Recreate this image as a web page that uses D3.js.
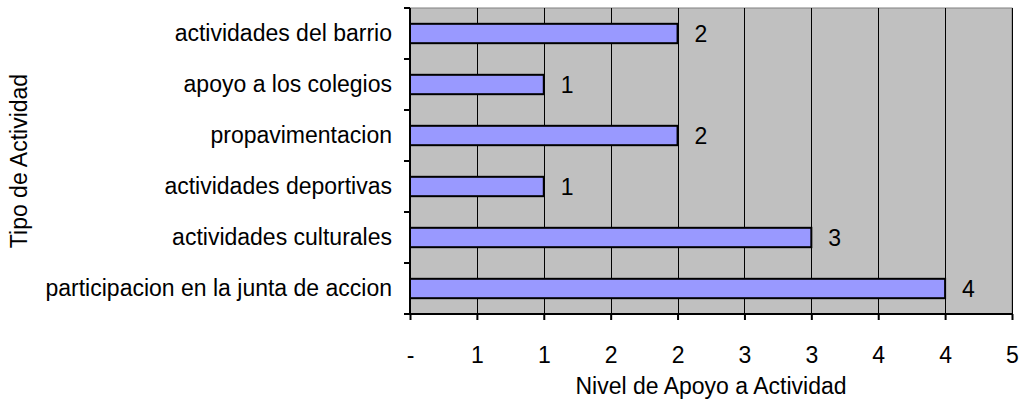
<!DOCTYPE html>
<html>
<head>
<meta charset="utf-8">
<script src="https://cdn.jsdelivr.net/npm/d3@7"></script>
<style>
  html, body { margin: 0; padding: 0; background: #fff; }
  svg { display: block; }
  text { font-family: "Liberation Sans", Arial, sans-serif; fill: #000; }
</style>
</head>
<body>
<svg id="chart" width="1021" height="403"></svg>
<script>
// Activity categories, top to bottom
const categories = [
  "actividades del barrio",
  "apoyo a los colegios",
  "propavimentacion",
  "actividades deportivas",
  "actividades culturales",
  "participacion en la junta de accion"
];
// Support level for each activity
const values = [2, 1, 2, 1, 3, 4];
// X-axis tick positions and their (rounded) labels
const tickValues = [0, 0.5, 1, 1.5, 2, 2.5, 3, 3.5, 4, 4.5];
const tickLabels = ["-", "1", "1", "2", "2", "3", "3", "4", "4", "5"];

const xTitle = "Nivel de Apoyo a Actividad";
const yTitle = "Tipo de Actividad";

const svg = d3.select("#chart");
const plot = { left: 410, top: 8, right: 1012, bottom: 314 };
const fontSize = 23;

const x = d3.scaleLinear().domain([0, 4.5]).range([plot.left, plot.right]);
const y = d3.scaleBand().domain(categories).range([plot.top, plot.bottom]).paddingInner(0).paddingOuter(0);

// plot background
svg.append("rect")
  .attr("x", plot.left).attr("y", plot.top)
  .attr("width", plot.right - plot.left).attr("height", plot.bottom - plot.top)
  .attr("fill", "#c0c0c0")
  .attr("stroke", "#808080").attr("stroke-width", 1);

// vertical gridlines
svg.append("g").selectAll("line")
  .data(tickValues.slice(1))
  .join("line")
  .attr("x1", d => Math.round(x(d)) + 0.5).attr("x2", d => Math.round(x(d)) + 0.5)
  .attr("y1", plot.top).attr("y2", plot.bottom)
  .attr("stroke", "#000").attr("stroke-width", 1);

// bars
const barH = y.bandwidth() * 0.38;
svg.append("g").selectAll("rect")
  .data(values)
  .join("rect")
  .attr("x", x(0))
  .attr("y", (d, i) => y(categories[i]) + (y.bandwidth() - barH) / 2)
  .attr("width", d => x(d) - x(0))
  .attr("height", barH)
  .attr("fill", "#9999ff")
  .attr("stroke", "#000").attr("stroke-width", 2);

// value labels
svg.append("g").selectAll("text")
  .data(values)
  .join("text")
  .attr("x", d => x(d) + 17)
  .attr("y", (d, i) => y(categories[i]) + y.bandwidth() / 2)
  .attr("dy", "0.35em")
  .style("font-size", fontSize + "px")
  .text(d => d);

// x axis
const xAxis = d3.axisBottom(x)
  .tickValues(tickValues)
  .tickSize(6)
  .tickFormat(d => tickLabels[tickValues.indexOf(d)]);
const gx = svg.append("g")
  .attr("transform", `translate(0,${plot.bottom})`)
  .call(xAxis);
gx.select(".domain").attr("stroke", "#000").attr("stroke-width", 2).attr("d", `M${plot.left},0H${plot.right}`);
gx.selectAll(".tick line").attr("stroke", "#000").attr("stroke-width", 2);
gx.selectAll(".tick text")
  .attr("y", 41).attr("dy", "0.35em")
  .style("font-size", fontSize + "px")
  .style("font-family", "Liberation Sans, Arial, sans-serif");

// y axis
const yAxis = d3.axisLeft(y).tickSize(0).tickPadding(18);
const gy = svg.append("g")
  .attr("transform", `translate(${plot.left},0)`)
  .call(yAxis);
gy.select(".domain").attr("stroke", "#000").attr("stroke-width", 2).attr("d", `M0,${plot.top}V${plot.bottom}`);
gy.selectAll(".tick text")
  .style("font-size", fontSize + "px")
  .style("font-family", "Liberation Sans, Arial, sans-serif");

// y-axis boundary ticks between categories
const bounds = categories.map(c => y(c)).concat([plot.bottom]);
svg.append("g").selectAll("line")
  .data(bounds)
  .join("line")
  .attr("x1", plot.left - 6).attr("x2", plot.left)
  .attr("y1", d => d).attr("y2", d => d)
  .attr("stroke", "#000").attr("stroke-width", 2);

// axis titles
svg.append("text")
  .attr("x", (plot.left + plot.right) / 2)
  .attr("y", 386)
  .attr("dy", "0.35em")
  .attr("text-anchor", "middle")
  .style("font-size", fontSize + "px")
  .text(xTitle);

svg.append("text")
  .attr("transform", `translate(19,${(plot.top + plot.bottom) / 2}) rotate(-90)`)
  .attr("dy", "0.35em")
  .attr("text-anchor", "middle")
  .style("font-size", fontSize + "px")
  .text(yTitle);
</script>
</body>
</html>
